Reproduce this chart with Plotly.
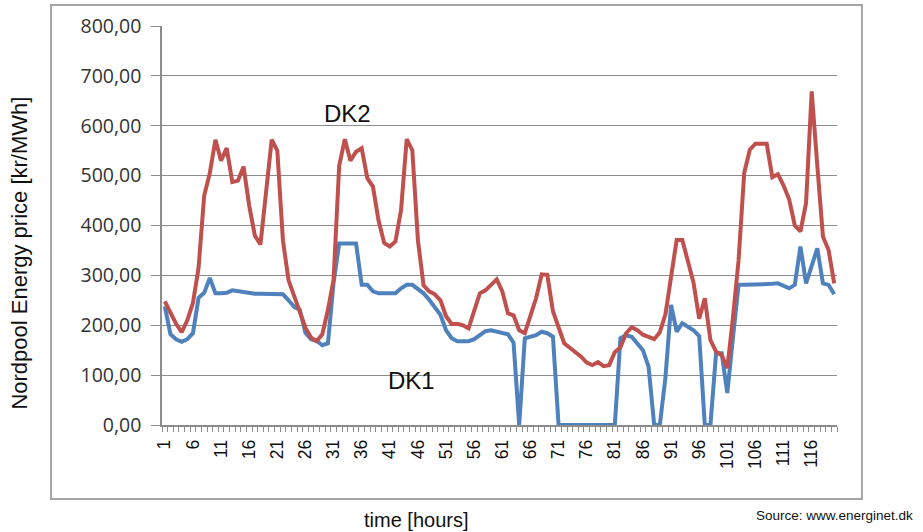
import plotly.graph_objects as go

hours = list(range(1, 121))

dk2 = [
    248, 225, 203, 186, 210, 245, 315, 460, 505, 572,
    530, 555, 487, 490, 518, 440, 380, 362, 465, 572,
    550, 370, 290, 258, 228, 195, 175, 168, 182, 231,
    291, 520, 573, 530, 548, 555, 495, 478, 410, 365,
    358, 368, 431, 573, 551, 370, 280, 268, 262, 250,
    218, 202, 203, 200, 194, 229, 264, 270, 281, 292,
    268, 224, 220, 190, 184, 218, 254, 302, 301, 228,
    196, 164, 155, 147, 137, 125, 120, 126, 118, 120,
    146, 156, 184, 196, 190, 181, 176, 172, 186, 222,
    297, 371, 371, 330, 285, 213, 254, 170, 147, 140,
    114, 215, 330, 505, 552, 564, 564, 564, 497, 503,
    480, 452, 400, 388, 445, 669, 520, 378, 351, 284,
]

dk1 = [
    238, 182, 172, 167, 172, 184, 255, 265, 295, 264,
    264, 265, 270, 268, 265, 263, 263, 263, 263, 263,
    263, 262, 250, 237, 231, 185, 172, 169, 160, 164,
    285, 364, 364, 364, 364, 281, 281, 268, 264, 264,
    264, 264, 274, 281, 281, 272, 264, 251, 237, 221,
    190, 174, 168, 167, 168, 172, 180, 188, 190, 187,
    185, 182, 165, 0, 174, 177, 180, 187, 184, 177,
    0, 0, 0, 0, 0, 0, 0, 0, 0, 0,
    0, 174, 180, 177, 162, 150, 117, 0, 0, 95,
    241, 187, 204, 197, 190, 178, 0, 0, 144, 144,
    64, 175, 281, 281, 281, 281, 281, 281, 283, 284,
    279, 274, 281, 358, 284, 318, 354, 284, 281, 262,
]

y_ticks = [0, 100, 200, 300, 400, 500, 600, 700, 800]

GRID = "#8c8c8c"
BOX = "#a6a6a6"

fig = go.Figure()
fig.add_trace(go.Scatter(x=hours, y=dk1, mode="lines", name="DK1",
                         line=dict(color="#4F81BD", width=4)))
fig.add_trace(go.Scatter(x=hours, y=dk2, mode="lines", name="DK2",
                         line=dict(color="#C0504D", width=4)))

fig.update_layout(
    width=923, height=532,
    margin=dict(l=162, r=86, t=26, b=107, autoexpand=False),
    paper_bgcolor="white", plot_bgcolor="white",
    showlegend=False,
    separators=",.",
    xaxis=dict(
        range=[0.5, 120.5], tickmode="linear", tick0=1, dtick=5,
        ticks="", tickangle=-90, showgrid=False, zeroline=False,
        showline=True, linecolor=GRID, linewidth=1.5, automargin=False,
        tickfont=dict(family="Liberation Sans", size=17.5, color="#111"),
        ticklabelstandoff=6,
        minor=dict(tickmode="linear", tick0=0.5, dtick=1, ticks="outside",
                   ticklen=5, tickcolor=GRID, tickwidth=1, showgrid=False),
    ),
    yaxis=dict(
        range=[0, 800], tickmode="array", tickvals=y_ticks, tickformat=".2f",
        showgrid=True, gridcolor=GRID, gridwidth=1.3, zeroline=False,
        showline=True, linecolor=GRID, linewidth=1.5, automargin=False,
        ticks="outside", ticklen=9, tickcolor=GRID, tickwidth=1.3,
        ticklabelstandoff=6,
        tickfont=dict(family="Open Sans", size=19.5, color="#333"),
    ),
    shapes=[dict(type="rect", xref="paper", yref="paper",
                 x0=-0.1644, x1=1.037, y0=-0.1855, y1=1.0526,
                 line=dict(color=BOX, width=2), fillcolor="rgba(0,0,0,0)",
                 layer="below")],
    annotations=[
        dict(text="DK2", x=33.5, y=625, xref="x", yref="y", showarrow=False,
             xanchor="center", yanchor="middle",
             font=dict(family="Liberation Sans", size=24, color="#111")),
        dict(text="DK1", x=44.8, y=90, xref="x", yref="y", showarrow=False,
             xanchor="center", yanchor="middle",
             font=dict(family="Liberation Sans", size=24, color="#111")),
        dict(text="Nordpool Energy price [kr/MWh]", textangle=-90,
             x=-0.2104, y=0.432, xref="paper", yref="paper", showarrow=False,
             xanchor="center", yanchor="middle",
             font=dict(family="Liberation Sans", size=22, color="#111")),
        dict(text="time [hours]", x=0.376, y=-0.238, xref="paper", yref="paper",
             showarrow=False, xanchor="center", yanchor="middle",
             font=dict(family="Liberation Sans", size=20, color="#111")),
        dict(text="Source: www.energinet.dk", x=1.1156, y=-0.2256,
             xref="paper", yref="paper", xanchor="right", yanchor="middle",
             showarrow=False,
             font=dict(family="Liberation Sans", size=13.5, color="#111")),
    ],
)

fig.write_html(
    "out.html",
    config={"displayModeBar": False},
    post_script="document.body.style.margin='0';document.body.style.overflow='hidden';",
)
